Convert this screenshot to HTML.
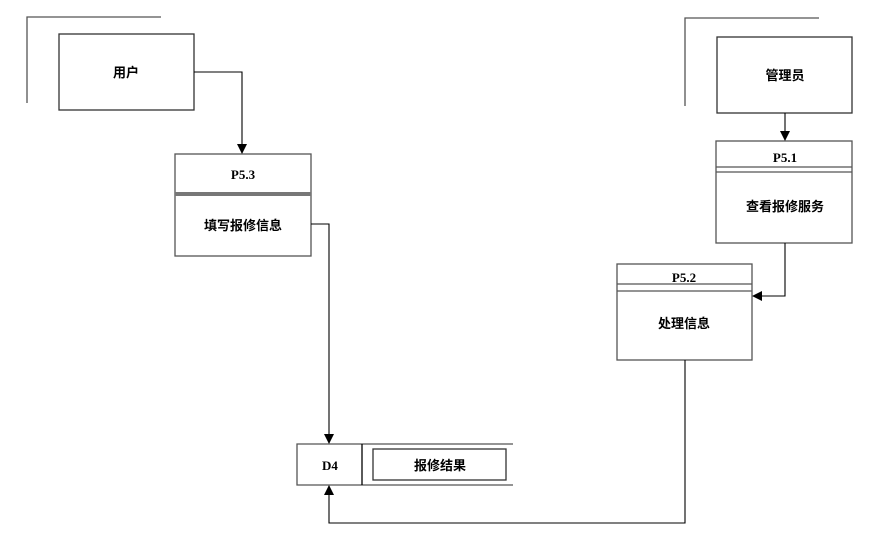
<!DOCTYPE html>
<html><head><meta charset="utf-8"><style>
html,body{margin:0;padding:0;background:#fff;}
svg text{font-family:"Liberation Serif","Noto Serif CJK SC","Noto Sans CJK SC",serif;font-weight:bold;font-size:13px;fill:#000;}
.c{font-family:"Liberation Sans","Noto Sans CJK SC",sans-serif;}
</style></head><body>
<svg width="892" height="554" viewBox="0 0 892 554" xmlns="http://www.w3.org/2000/svg">
<defs><marker id="a" markerWidth="10" markerHeight="10" refX="9" refY="5" orient="auto" markerUnits="userSpaceOnUse"><path d="M0,0 L10,5 L0,10 z" fill="#000"/></marker></defs>
<g fill="none" stroke="#555" stroke-width="1.3">
<path d="M27,103 V17 H161"/>
<rect x="59" y="34" width="135" height="76" stroke="#333"/>
<path d="M685,106 V18 H819"/>
<rect x="717" y="37" width="135" height="76" stroke="#333"/>
<rect x="175" y="154" width="136" height="102"/>
<rect x="716" y="141" width="136" height="102"/>
<line x1="716" y1="167" x2="852" y2="167"/><line x1="716" y1="172" x2="852" y2="172"/>
<rect x="617" y="264" width="135" height="96"/>
<line x1="617" y1="284" x2="752" y2="284"/><line x1="617" y1="291" x2="752" y2="291"/>
<path d="M513,444 H297 V485 H513"/>
<line x1="362" y1="444" x2="362" y2="485" stroke="#000"/>
<rect x="373" y="449" width="133" height="31" stroke="#333"/>
</g>
<rect x="175" y="192" width="136" height="4" fill="#777"/>
<g fill="none" stroke="#000" stroke-width="1.1">
<path d="M194,72 H242 V153" marker-end="url(#a)"/>
<path d="M311,224 H329 V443" marker-end="url(#a)"/>
<path d="M785,113 V140" marker-end="url(#a)"/>
<path d="M785,243 V296 H753" marker-end="url(#a)"/>
<path d="M685,360 V523 H329 V486" marker-end="url(#a)"/>
</g>
<text class="c" x="126" y="77" text-anchor="middle">用户</text>
<text class="c" x="785" y="80" text-anchor="middle">管理员</text>
<text x="243" y="179" text-anchor="middle">P5.3</text>
<text class="c" x="243" y="230" text-anchor="middle">填写报修信息</text>
<text x="785" y="162" text-anchor="middle">P5.1</text>
<text class="c" x="785" y="211" text-anchor="middle">查看报修服务</text>
<text x="684" y="282" text-anchor="middle">P5.2</text>
<text class="c" x="684" y="328" text-anchor="middle">处理信息</text>
<text x="330" y="470" text-anchor="middle">D4</text>
<text class="c" x="440" y="470" text-anchor="middle">报修结果</text>
</svg>
</body></html>
